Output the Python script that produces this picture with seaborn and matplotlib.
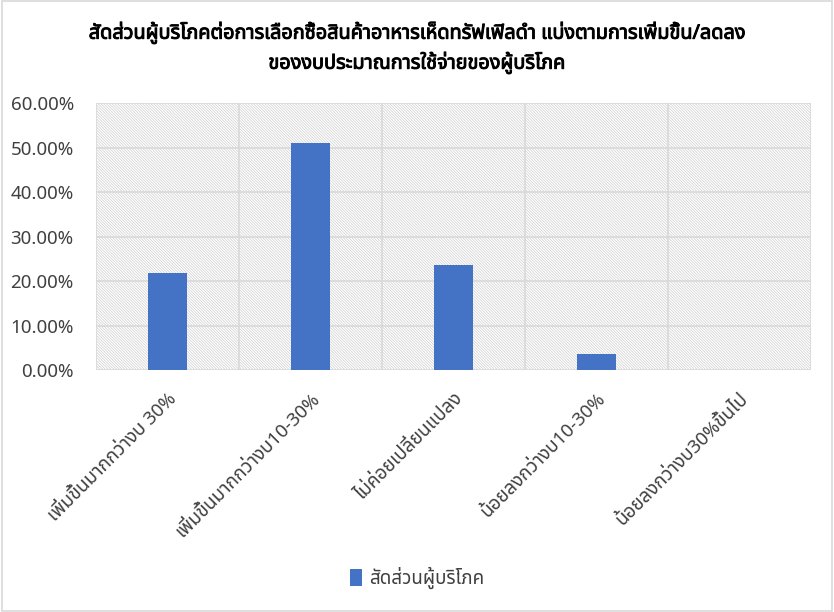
import matplotlib
matplotlib.use("Agg")
import matplotlib.pyplot as plt
from matplotlib import font_manager
from matplotlib.ft2font import FT2Font
from matplotlib.patches import Rectangle
import matplotlib.patheffects as pe
import seaborn as sns
import pandas as pd

categories = ["เพิ่มขึ้นมากกว่างบ 30%", "เพิ่มขึ้นมากกว่างบ10-30%", "ไม่ค่อยเปลี่ยนแปลง",
              "น้อยลงกว่างบ10-30%", "น้อยลงกว่างบ30%ขึ้นไป"]
values = [0.2182, 0.5091, 0.2364, 0.0364, 0.0]
series_name = "สัดส่วนผู้บริโภค"
title = "สัดส่วนผู้บริโภคต่อการเลือกซื้อสินค้าอาหารเห็ดทรัฟเฟิลดำ แบ่งตามการเพิ่มขึ้น/ลดลง\nของงบประมาณการใช้จ่ายของผู้บริโภค"
yticks = [0.0, 0.1, 0.2, 0.3, 0.4, 0.5, 0.6]

# find a font covering Thai
thai_family = None
names = []
for path in font_manager.findSystemFonts():
    try:
        f = FT2Font(path)
        cm = f.get_charmap()
        if 0x0E2A in cm and 0x0E14 in cm:
            names.append(font_manager.FontProperties(fname=path).get_name())
    except Exception:
        pass
pref = ["Tahoma", "Leelawadee UI", "Noto Sans Thai", "Noto Sans Thai UI", "Loma", "Garuda", "DejaVu Sans"]
for p in pref:
    if p in names:
        thai_family = p
        break
if thai_family is None and names:
    thai_family = names[0]

sns.set_theme(style="white")
fams = ([thai_family] if thai_family else []) + ["DejaVu Sans"]
plt.rcParams["font.family"] = fams
plt.rcParams["hatch.linewidth"] = 0.5
plt.rcParams["hatch.color"] = "#CFCFCF"

blue = "#4472C4"
df = pd.DataFrame({"cat": categories, "val": values, "series": series_name})

fig = plt.figure(figsize=(8.34, 6.12), dpi=100)
fig.patch.set_facecolor("white")
fig.patches.append(Rectangle((0.002, 0.002), 0.996, 0.996, transform=fig.transFigure,
                             fill=False, edgecolor="#D9D9D9", linewidth=1.2))
ax = fig.add_axes([0.1151, 0.3954, 0.8573, 0.4363])

# hatched background
bg = Rectangle((0, 0), 1, 1, transform=ax.transAxes, facecolor="white",
               edgecolor="#CFCFCF", hatch="\\" * 12, linewidth=0, zorder=0)
ax.add_patch(bg)

sns.barplot(data=df, x="cat", y="val", hue="series", palette=[blue], width=0.27,
            ax=ax, zorder=3, saturation=1, linewidth=0, edgecolor=blue)

ax.set_ylim(0, 0.6)
ax.set_xlim(-0.5, len(categories) - 0.5)
ax.set_yticks(yticks)
ax.set_yticklabels([f"{v*100:.2f}%" for v in yticks], fontsize=13.5, color="#404040")
for y in yticks:
    ax.axhline(y, color="#D9D9D9", lw=1.2, zorder=1)
for x in [i + 0.5 for i in range(-1, len(categories))]:
    ax.axvline(x, color="#D9D9D9", lw=1.2, zorder=1)
ax.set_xticks(range(len(categories)))
ax.set_xticklabels(categories, rotation=45, ha="right", rotation_mode="anchor",
                   fontsize=13.5, color="#404040")
ax.tick_params(axis="x", length=0, pad=14)
ax.tick_params(axis="y", length=0, pad=16)
for s in ax.spines.values():
    s.set_visible(False)
ax.set_xlabel("")
ax.set_ylabel("")

leg = ax.legend(loc="center", bbox_to_anchor=(0.5, 0.055), bbox_transform=fig.transFigure,
                frameon=False, fontsize=13.5, handlelength=0.65, handleheight=1.0, handletextpad=0.4)
for t in leg.get_texts():
    t.set_color("#404040")

fig.text(0.5, 0.922, title, ha="center", va="center", fontsize=14.3, fontweight="bold",
         color="black", linespacing=1.45,
         path_effects=[pe.withStroke(linewidth=0.7, foreground="black")])

fig.savefig("out.png", dpi=100)
